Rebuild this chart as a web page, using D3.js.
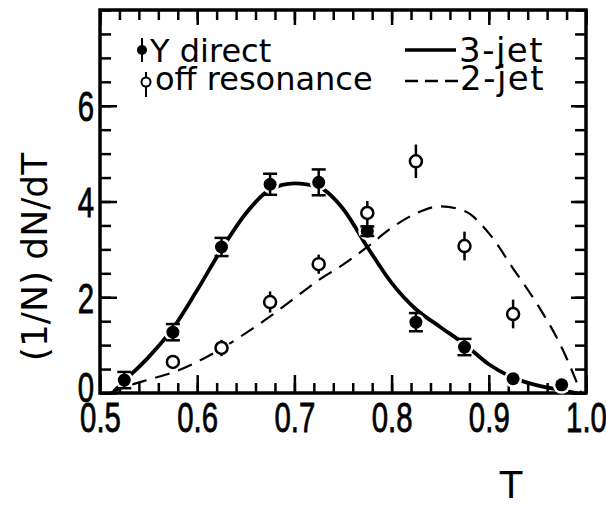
<!DOCTYPE html>
<html><head><meta charset="utf-8">
<script src="https://cdn.jsdelivr.net/npm/d3@7"></script>
<style>body{margin:0;background:#fff}svg{display:block}</style>
</head><body>
<svg id="c" width="606" height="507"></svg>
<script>
// ---- data ----
const T_direct = [0.525,0.575,0.625,0.675,0.725,0.775,0.825,0.875,0.925,0.975];
const Y_direct = [0.27,1.27,3.05,4.36,4.40,3.38,1.48,0.96,0.30,0.17];
const E_direct = [0.17,0.17,0.19,0.22,0.27,0.10,0.19,0.17,0,0];

const T_off = [0.575,0.625,0.675,0.725,0.775,0.825,0.875,0.925];
const Y_off = [0.65,0.94,1.90,2.69,3.76,4.84,3.07,1.65];
const E_off = [0,0.17,0.22,0.20,0.25,0.35,0.30,0.30];

const T_3jet = [0.515,0.525,0.55,0.575,0.6,0.625,0.65,0.675,0.7,0.725,0.75,0.775,0.8,0.825,0.85,0.875,0.9,0.925,0.95,0.975,0.99];
const Y_3jet = [0.05,0.25,0.75,1.35,2.15,3.0,3.75,4.25,4.38,4.3,3.85,3.05,2.3,1.75,1.38,1.02,0.6,0.32,0.16,0.06,0.0];

const T_2jet = [0.51,0.525,0.55,0.575,0.6,0.625,0.65,0.675,0.7,0.725,0.75,0.775,0.8,0.825,0.85,0.875,0.9,0.925,0.95,0.975,0.995];
const Y_2jet = [0.0,0.12,0.28,0.43,0.65,0.93,1.25,1.6,1.98,2.36,2.68,3.05,3.45,3.75,3.9,3.8,3.34,2.6,1.85,0.95,0.0];

const xMajor = [0.5,0.6,0.7,0.8,0.9,1.0];
const yMajor = [0,2,4,6];
const xLabel = "T";
const yLabel = "(1/N) dN/dT";
const legendLabels = ["Y direct","off resonance","3-jet","2-jet"];

// ---- layout ----
const L = 100, R = 586, TOP = 10, B = 393;
const svg = d3.select("#c");
const x = d3.scaleLinear().domain([0.5,1.0]).range([L,R]);
const y = d3.scaleLinear().domain([0,8]).range([B,TOP]);
const ink = "#000";
const tickFont = "'Liberation Sans',Arial,sans-serif";
const textFont = "'DejaVu Sans',sans-serif";
const squeeze = 0.7;

const xMinor = d3.range(0.5,1.0001,0.02).map(v=>+v.toFixed(2));
const yMinor = d3.range(0,8.001,0.5);

function styleAxis(g){
  g.select(".domain").remove();
  g.selectAll(".tick line").attr("stroke",ink).attr("stroke-width",2.5);
}
function styleLabels(sel){
  sel.attr("font-family",tickFont).attr("font-size",42).attr("fill",ink)
     .attr("stroke",ink).attr("stroke-width",0.8).attr("transform",`scale(${squeeze},1)`);
}
// bottom
svg.append("g").attr("transform",`translate(0,${B})`)
  .call(d3.axisBottom(x).tickValues(xMinor).tickSize(-10).tickFormat(""))
  .call(styleAxis);
svg.append("g").attr("transform",`translate(0,${B})`)
  .call(d3.axisBottom(x).tickValues(xMajor).tickSize(-18).tickFormat(d3.format(".1f")))
  .call(styleAxis)
  .call(g=>g.selectAll("text").call(styleLabels).attr("y",39).attr("dy",0));
// top
svg.append("g").attr("transform",`translate(0,${TOP})`)
  .call(d3.axisTop(x).tickValues(xMinor).tickSize(-10).tickFormat(""))
  .call(styleAxis);
svg.append("g").attr("transform",`translate(0,${TOP})`)
  .call(d3.axisTop(x).tickValues(xMajor).tickSize(-15).tickFormat(""))
  .call(styleAxis);
// left
svg.append("g").attr("transform",`translate(${L},0)`)
  .call(d3.axisLeft(y).tickValues(yMinor).tickSize(-11).tickFormat(""))
  .call(styleAxis);
svg.append("g").attr("transform",`translate(${L},0)`)
  .call(d3.axisLeft(y).tickValues(yMajor).tickSize(-17).tickFormat(d3.format("d")))
  .call(styleAxis)
  .call(g=>g.selectAll("text").call(styleLabels)
     .attr("x",-6/squeeze).attr("dy",d=>d===0?"0.2em":"0.36em"));
// right
svg.append("g").attr("transform",`translate(${R},0)`)
  .call(d3.axisRight(y).tickValues(yMinor).tickSize(-11).tickFormat(""))
  .call(styleAxis);
svg.append("g").attr("transform",`translate(${R},0)`)
  .call(d3.axisRight(y).tickValues(yMajor).tickSize(-15).tickFormat(""))
  .call(styleAxis);

// frame
svg.append("rect").attr("x",L).attr("y",TOP).attr("width",R-L).attr("height",B-TOP)
  .attr("fill","none").attr("stroke",ink).attr("stroke-width",3.5);

// axis titles
svg.append("text").attr("x",511).attr("y",498).attr("text-anchor","middle")
  .attr("font-family",textFont).attr("font-size",37).attr("fill",ink).text(xLabel);
svg.append("text").attr("transform","translate(47,257) rotate(-90)").attr("text-anchor","middle")
  .attr("font-family",textFont).attr("font-size",36).attr("fill",ink).text(yLabel);

// curves
const line = d3.line().x(d=>x(d[0])).y(d=>y(d[1])).curve(d3.curveMonotoneX);
svg.append("path").datum(d3.zip(T_2jet,Y_2jet)).attr("d",line)
  .attr("fill","none").attr("stroke",ink).attr("stroke-width",2.2).attr("stroke-dasharray","15,9");
svg.append("path").datum(d3.zip(T_3jet,Y_3jet)).attr("d",line)
  .attr("fill","none").attr("stroke",ink).attr("stroke-width",3.8).attr("stroke-linecap","round");

// data points
const dDirect = T_direct.map((t,i)=>({t,v:Y_direct[i],e:E_direct[i]}));
const dOff = T_off.map((t,i)=>({t,v:Y_off[i],e:E_off[i]}));

const halo = svg.append("g");
halo.selectAll("circle").data(dDirect.concat(dOff)).join("circle")
  .attr("cx",d=>x(d.t)).attr("cy",d=>y(d.v)).attr("r",9).attr("fill","#fff");

const gd = svg.append("g");
gd.selectAll("line.eb").data(dDirect.filter(d=>d.e>0)).join("line").attr("class","eb")
  .attr("x1",d=>x(d.t)).attr("x2",d=>x(d.t)).attr("y1",d=>y(d.v-d.e)).attr("y2",d=>y(d.v+d.e))
  .attr("stroke",ink).attr("stroke-width",2.5);
["lo","hi"].forEach(k=>{
  gd.selectAll("line.cap"+k).data(dDirect.filter(d=>d.e>0)).join("line").attr("class","cap"+k)
    .attr("x1",d=>x(d.t)-7).attr("x2",d=>x(d.t)+7)
    .attr("y1",d=>y(k==="lo"?d.v-d.e:d.v+d.e)).attr("y2",d=>y(k==="lo"?d.v-d.e:d.v+d.e))
    .attr("stroke",ink).attr("stroke-width",2.5);
});
gd.selectAll("circle").data(dDirect).join("circle")
  .attr("cx",d=>x(d.t)).attr("cy",d=>y(d.v)).attr("r",6.5).attr("fill",ink);

const go = svg.append("g");
go.selectAll("line").data(dOff.filter(d=>d.e>0)).join("line")
  .attr("x1",d=>x(d.t)).attr("x2",d=>x(d.t)).attr("y1",d=>y(d.v-d.e)).attr("y2",d=>y(d.v+d.e))
  .attr("stroke",ink).attr("stroke-width",2.5);
go.selectAll("circle").data(dOff).join("circle")
  .attr("cx",d=>x(d.t)).attr("cy",d=>y(d.v)).attr("r",6).attr("fill","#fff")
  .attr("stroke",ink).attr("stroke-width",2.5);

// legend
const lg = svg.append("g").attr("font-family",textFont).attr("font-size",32).attr("fill",ink);
lg.append("line").attr("x1",142).attr("x2",142).attr("y1",38).attr("y2",62).attr("stroke",ink).attr("stroke-width",2);
lg.append("circle").attr("cx",142).attr("cy",50).attr("r",5).attr("fill",ink);
lg.append("text").attr("x",150).attr("y",62).text(legendLabels[0]);
lg.append("line").attr("x1",146).attr("x2",146).attr("y1",72).attr("y2",97).attr("stroke",ink).attr("stroke-width",2);
lg.append("circle").attr("cx",146).attr("cy",82).attr("r",4.5).attr("fill","#fff").attr("stroke",ink).attr("stroke-width",2);
lg.append("text").attr("x",155).attr("y",90).text(legendLabels[1]);
lg.append("line").attr("x1",405).attr("x2",456).attr("y1",50).attr("y2",50).attr("stroke",ink).attr("stroke-width",3.5);
lg.append("text").attr("x",459).attr("y",62).attr("font-size",34).attr("letter-spacing",1.5).text(legendLabels[2]);
lg.append("line").attr("x1",405).attr("x2",458).attr("y1",81).attr("y2",81).attr("stroke",ink).attr("stroke-width",2.5).attr("stroke-dasharray","13,7");
lg.append("text").attr("x",460).attr("y",90).attr("font-size",34).attr("letter-spacing",1.5).text(legendLabels[3]);
</script>
</body></html>
